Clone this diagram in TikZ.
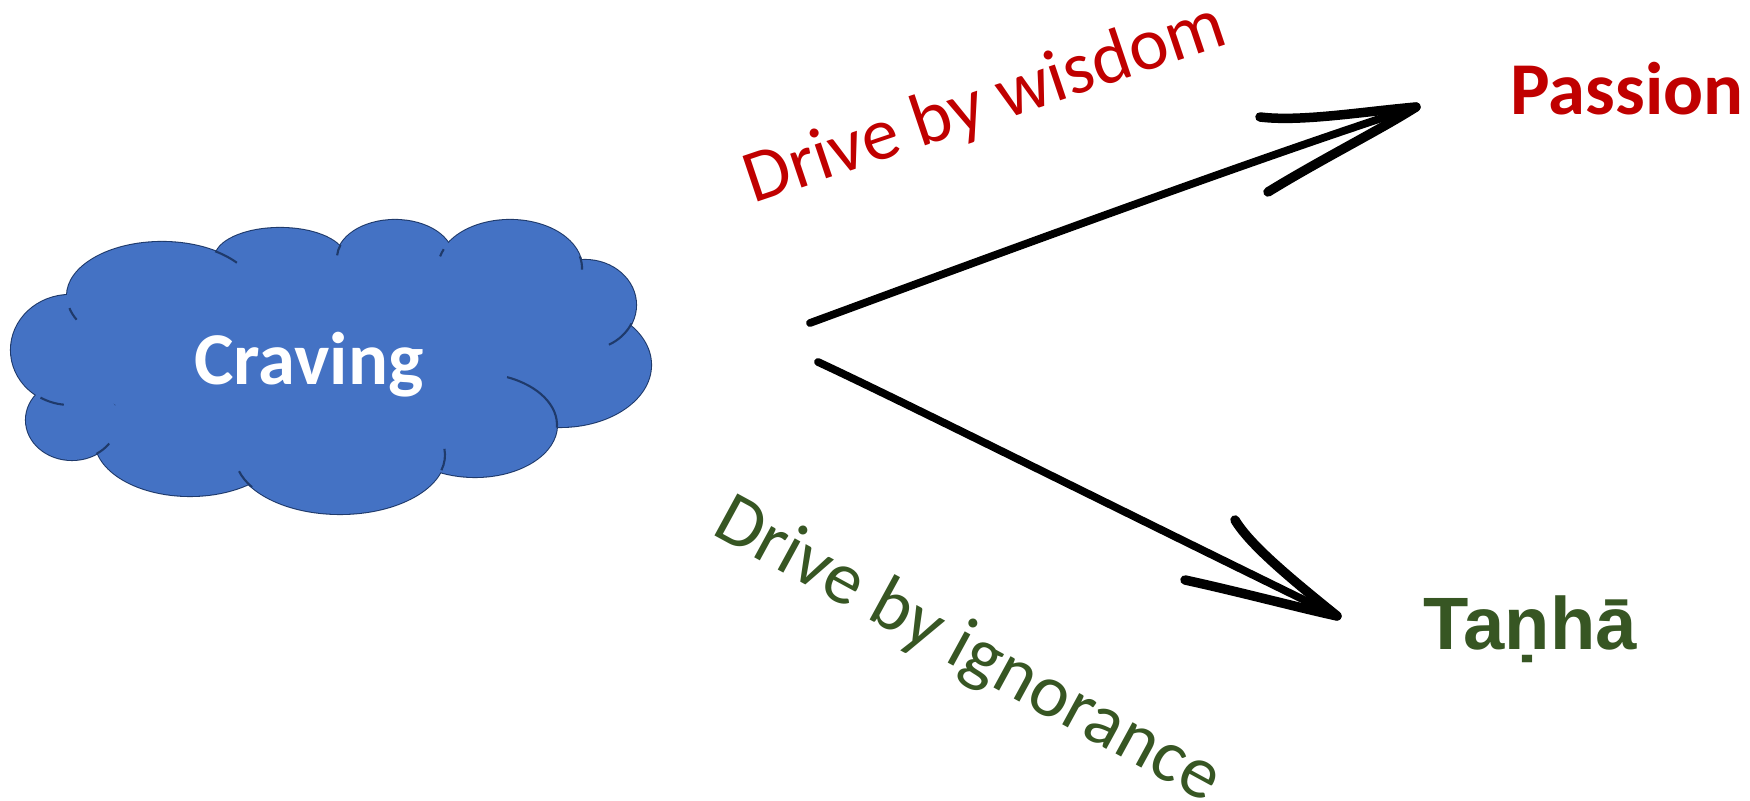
\documentclass[tikz,border=0pt]{standalone}
\usepackage{fontspec}
\setmainfont{Carlito}
\newfontfamily\arialfont{Liberation Sans}
\definecolor{cloudfill}{HTML}{4472C4}
\definecolor{cloudline}{HTML}{1F3A6B}
\definecolor{wisred}{HTML}{C00000}
\definecolor{igngreen}{HTML}{375623}
\begin{document}
\begin{tikzpicture}[x=0.01cm,y=-0.01cm,
  cloudedge/.style={draw=cloudline, line width=0.6pt},
  pen/.style={draw=black, line width=2.2pt, line cap=round, line join=round},
  barb/.style={pen, line width=2.7pt},
  lbl/.style={inner sep=0pt, font=\fontsize{21.2pt}{24pt}\selectfont}]
\useasboundingbox (0,0) rectangle (1750,801);
% ---------- cloud ----------
\def\cloudparts{162/296/95/54, 280/258/65/30, 395/258/58/38, 510/268/72/48,
  585/305/51/45, 560/365/91/62, 475/425/82/52, 340/455/105/59,
  190/440/95/56, 72/420/46/40, 70/350/59/55}
\foreach \cx/\cy/\rx/\ry in \cloudparts
  \draw[cloudedge, fill=cloudfill] (\cx,\cy) ellipse [x radius=\rx, y radius=\ry];
\foreach \cx/\cy/\rx/\ry in \cloudparts
  \fill[cloudfill] (\cx,\cy) ellipse [x radius=\rx, y radius=\ry];
\fill[cloudfill] (330,360) ellipse [x radius=240, y radius=100];
% inner tails of the cloud
\foreach \cx/\cy/\rx/\ry/\a/\b in {
  162/296/95/54/-56/-38, 395/258/58/38/-160/-176, 510/268/72/48/-157/-166,
  510/268/72/48/-14/2, 585/305/51/45/24/62, 475/425/82/52/-67/3,
  340/455/105/59/15/-6, 340/455/105/59/147/164, 72/420/46/40/58/36,
  70/350/59/55/120/96, 162/296/95/54/167/154}
  \draw[cloudedge] ({\cx+\rx*cos(\a)},{\cy+\ry*sin(\a)}) arc[start angle=\a, end angle=\b, x radius=\rx, y radius=\ry];
\node[lbl, font=\bfseries\fontsize{21.2pt}{24pt}\selectfont, text=white, anchor=base] (craving) at (309,385) {Craving};
% ---------- labels ----------
\node[lbl, font=\bfseries\fontsize{21.2pt}{24pt}\selectfont, text=wisred, anchor=base west] (passion) at (1510,115) {Passion};
\node[lbl, font=\arialfont\bfseries\fontsize{21.1pt}{24pt}\selectfont, text=igngreen, anchor=base west] (tanha) at (1423,650) {Taṇhā};
\node[lbl, text=wisred, anchor=base west, rotate=18.6] (wisdom) at (753,204) {Drive by wisdom};
\node[lbl, text=igngreen, anchor=base west, rotate=-28.6] (ignorance) at (710,533) {Drive by ignorance};
% ---------- arrows ----------
\coordinate (u0) at (810,323);
\coordinate (u1) at (1416,107);
\coordinate (ub1) at (1260,117);
\coordinate (ub2) at (1268,192);
\draw[pen] (u0) .. controls (900,290) and (1250,160) .. (u1);
\draw[barb] (ub1) .. controls (1300,122) and (1360,112) .. (u1);
\draw[barb] (ub2) .. controls (1320,160) and (1380,130) .. (u1);
\coordinate (d0) at (818,362);
\coordinate (d1) at (1337,616);
\coordinate (db1) at (1235,520);
\coordinate (db2) at (1185,580);
\draw[pen] (d0) .. controls (900,400) and (1150,525) .. (d1);
\draw[barb] (db1) .. controls (1250,545) and (1290,578) .. (d1);
\draw[barb] (db2) .. controls (1240,592) and (1300,608) .. (d1);
\end{tikzpicture}
\end{document}
